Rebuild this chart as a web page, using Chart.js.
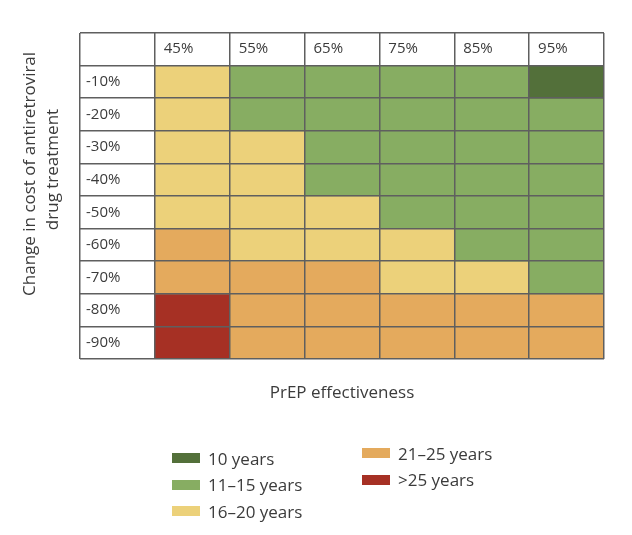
<!DOCTYPE html>
<html>
<head>
<meta charset="utf-8">
<script src="https://cdn.jsdelivr.net/npm/chart.js@4"></script>
<style>
  body { margin: 0; background: #fff; }
  #wrap { position: relative; width: 632px; height: 535px; }
  .legend-col { position: absolute; font-family: "Open Sans"; font-size: 17px; color: #3b3b3b; }
  .legend-item { display: flex; align-items: center; height: 26.5px; white-space: nowrap; }
  .legend-item span { display: inline-block; width: 28px; height: 10px; margin-right: 8px; }
</style>
</head>
<body>
<div id="wrap">
  <canvas id="grid" width="632" height="535"></canvas>
  <div class="legend-col" id="lg1" style="left:172px;top:445px"></div>
  <div class="legend-col" id="lg2" style="left:362px;top:440px"></div>
</div>
<script>
// column and row headings
var effectiveness = ["45%", "55%", "65%", "75%", "85%", "95%"];
var costChange = ["-10%", "-20%", "-30%", "-40%", "-50%", "-60%", "-70%", "-80%", "-90%"];

// time bands (legend) and their fills
var bandNames = ["10 years", "11–15 years", "16–20 years", "21–25 years", ">25 years"];
var bandColors = ["#53703a", "#87ad62", "#ecd17a", "#e4aa5d", "#a63024"];

// band index for each cell, one list per cost row, columns follow effectiveness
var bands = [
  [2, 1, 1, 1, 1, 0],
  [2, 1, 1, 1, 1, 1],
  [2, 2, 1, 1, 1, 1],
  [2, 2, 1, 1, 1, 1],
  [2, 2, 2, 1, 1, 1],
  [3, 2, 2, 2, 1, 1],
  [3, 3, 3, 2, 2, 1],
  [4, 3, 3, 3, 3, 3],
  [4, 3, 3, 3, 3, 3]
];

var FONT = "'Open Sans'";
var textColor = "#3b3b3b";
var lineColor = "#5f5f5f";

// one dataset per band, each cell a floating bar over its row
var datasets = bandNames.map(function (name, k) {
  var pts = [];
  bands.forEach(function (row, r) {
    row.forEach(function (b, c) {
      if (b === k) pts.push({ x: effectiveness[c], y: [r + 1, r + 2] });
    });
  });
  return {
    label: name, data: pts, backgroundColor: bandColors[k], borderWidth: 0,
    grouped: false, barPercentage: 1, categoryPercentage: 1,
    xAxisID: "x", yAxisID: "yv"
  };
});

function pad(n) { return new Array(n + 1).join(" "); }

new Chart(document.getElementById("grid"), {
  type: "bar",
  data: { datasets: datasets },
  options: {
    responsive: false, animation: false,
    layout: { padding: { left: 0, right: 28, top: 0, bottom: 126 } },
    plugins: { legend: { display: false }, tooltip: { enabled: false } },
    scales: {
      x: {
        type: "category", position: "top", labels: [""].concat(effectiveness),
        offset: true,
        grid: { offset: true, color: lineColor, lineWidth: 1.5, drawTicks: false, z: 1 },
        border: { display: false },
        // mirrored so the headings sit inside the first table row
        ticks: { mirror: true, align: "start", labelOffset: -28.5, padding: 7, maxRotation: 0, autoSkip: false,
          color: textColor, font: { family: FONT, size: 15 } },
        afterFit: function (s) { s.height = 33; }
      },
      y: {
        type: "category", position: "left", labels: [""].concat(costChange),
        offset: true,
        grid: { offset: true, color: lineColor, lineWidth: 1.5, drawTicks: false, z: 1 },
        border: { display: false },
        ticks: { mirror: true, crossAlign: "near", padding: 6, autoSkip: false,
          color: textColor, font: { family: FONT, size: 15 } },
        title: {
          display: true,
          text: [pad(10) + "Change in cost of antiretroviral", pad(12) + "drug treatment"],
          color: textColor, font: { family: FONT, size: 17, lineHeight: 1.35 },
          padding: { top: 19, bottom: 0 }
        },
        afterFit: function (s) { s.width = 80; }
      },
      yv: { type: "linear", display: false, min: 0, max: 10, reverse: true },
      x2: {
        type: "category", position: "bottom", labels: effectiveness,
        grid: { display: false }, border: { display: false }, ticks: { display: false },
        title: { display: true, text: "PrEP effectiveness", color: textColor,
          font: { family: FONT, size: 17 }, padding: { top: 0, bottom: 6 } },
        afterFit: function (s) { s.height = 50; }
      }
    }
  }
});

// legend in two columns, as in the figure
[[0, 1, 2], [3, 4]].forEach(function (col, i) {
  var el = document.getElementById("lg" + (i + 1));
  el.innerHTML = col.map(function (k) {
    return '<div class="legend-item"><span style="background:' + bandColors[k] + '"></span>' + bandNames[k] + '</div>';
  }).join("");
});
</script>
</body>
</html>
